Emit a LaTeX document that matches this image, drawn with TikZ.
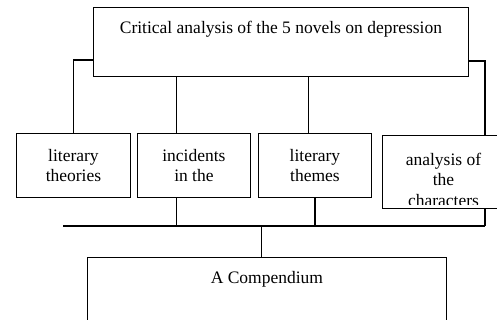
\documentclass[tikz,border=0pt]{standalone}
\usepackage{fontspec}
\setmainfont{Liberation Serif}
\usepackage{tikz}

\begin{document}
\begin{tikzpicture}[x=1pt, y=-1pt,
    every node/.style={font=\fontsize{17.5}{20.5}\selectfont},
    box/.style={draw, rectangle, line width=0.9pt, inner sep=0pt},
    link/.style={line width=1.9pt}]
    \useasboundingbox (0,0) rectangle (497,320);

    % Main topic
    \node[box, anchor=north west, minimum width=375pt, text height=26pt, text depth=43pt] (crit) at (93,7) {Critical analysis of the 5 novels on depression};

    % Aspects
    \node[box, align=center, anchor=north west, minimum width=114pt, minimum height=64pt] (theo) at (16,133) {literary\\theories};
    \node[box, align=center, anchor=north west, minimum width=113pt, minimum height=64pt] (inc) at (137,133) {incidents\\in the};
    \node[box, align=center, anchor=north west, minimum width=113pt, minimum height=64pt] (them) at (258,133) {literary\\themes};
    \node[box, anchor=north west, minimum width=122pt, minimum height=73pt,
          path picture={\clip ([yshift=4pt]path picture bounding box.south west) rectangle (path picture bounding box.north east);
                        \node[anchor=north, align=center, inner sep=0pt] at ([yshift=-7.5pt]path picture bounding box.north) {analysis of\\the\\characters};}] (chars) at (382,135) {};

    % Result
    \node[box, anchor=north west, minimum width=359pt, text height=26pt, text depth=36.5pt] (comp) at (87,257) {A Compendium};

    % Connectors from the main topic
    \coordinate (incTop) at ([xshift=-17.5pt]inc.north);
    \coordinate (themTop) at ([xshift=-6.5pt]them.north);
    \coordinate (charsTop) at ([xshift=-20pt]chars.north east);
    \draw[link] ([yshift=17pt]crit.south west) -| (theo.north);
    \draw[link] (incTop) -- (incTop |- crit.south);
    \draw[link] (themTop) -- (themTop |- crit.south);
    \draw[link] ([yshift=16pt]crit.south east) -| (charsTop);

    % Bus to the compendium
    \coordinate (busL) at (63,226);
    \coordinate (busR) at (charsTop |- busL);
    \coordinate (compTop) at ([xshift=-5.5pt]comp.north);
    \draw[link] (busL) -- (busR);
    \draw[link] (incTop |- inc.south) -- (incTop |- busL);
    \draw[link] (them.south) -- (them.south |- busL);
    \draw[link] (charsTop |- chars.south) -- (busR);
    \draw[link] (compTop) -- (compTop |- busL);
\end{tikzpicture}
\end{document}
